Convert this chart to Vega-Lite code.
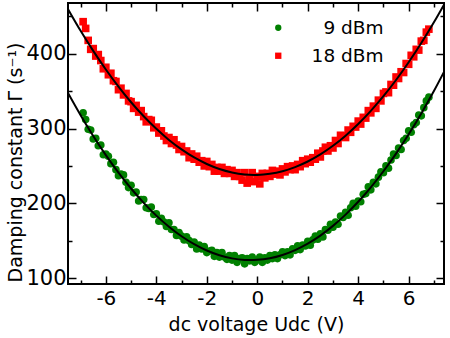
{
  "$schema": "https://vega.github.io/schema/vega-lite/v6.json",
  "width": 376,
  "height": 281,
  "autosize": {"type": "none"},
  "padding": {"left": 68, "top": 3, "right": 6, "bottom": 54},
  "config": {
    "view": {"stroke": "black", "strokeWidth": 2},
    "font": "DejaVu Sans",
    "axis": {"domain": false, "grid": false, "tickColor": "black", "tickWidth": 1.5, "labelColor": "black", "labelFont": "DejaVu Sans", "labelFontSize": 21, "titleFont": "DejaVu Sans", "titleFontSize": 19, "titleFontWeight": "normal", "titleColor": "black"},
    "legend": {"orient": "none", "legendX": 201, "legendY": 15.5, "title": null, "labelFont": "DejaVu Sans", "labelFontSize": 18.5, "labelColor": "black", "labelAlign": "right", "labelOffset": 96, "symbolSize": 40, "rowPadding": 9, "padding": 0, "symbolStrokeWidth": 0}
  },
  "datasets": {
    "pts": [
      {"U":-6.9,"9 dBm":321,"18 dBm":443},{"U":-6.8,"9 dBm":312,"18 dBm":434},{"U":-6.7,"9 dBm":299,"18 dBm":418},{"U":-6.6,"9 dBm":298,"18 dBm":406},{"U":-6.5,"9 dBm":286,"18 dBm":407},{"U":-6.4,"9 dBm":287,"18 dBm":397},{"U":-6.3,"9 dBm":277,"18 dBm":399},{"U":-6.2,"9 dBm":278,"18 dBm":391},{"U":-6.1,"9 dBm":265,"18 dBm":380},{"U":-6.0,"9 dBm":266,"18 dBm":382},
      {"U":-5.9,"9 dBm":263,"18 dBm":372},{"U":-5.8,"9 dBm":253,"18 dBm":374},{"U":-5.7,"9 dBm":255,"18 dBm":364},{"U":-5.6,"9 dBm":245,"18 dBm":363},{"U":-5.5,"9 dBm":237,"18 dBm":352},{"U":-5.4,"9 dBm":239,"18 dBm":354},{"U":-5.3,"9 dBm":238,"18 dBm":345},{"U":-5.2,"9 dBm":228,"18 dBm":347},{"U":-5.1,"9 dBm":221,"18 dBm":337},{"U":-5.0,"9 dBm":224,"18 dBm":336},
      {"U":-4.9,"9 dBm":214,"18 dBm":327},{"U":-4.8,"9 dBm":215,"18 dBm":331},{"U":-4.7,"9 dBm":203,"18 dBm":322},{"U":-4.6,"9 dBm":205,"18 dBm":324},{"U":-4.5,"9 dBm":205,"18 dBm":316},{"U":-4.4,"9 dBm":194,"18 dBm":309},{"U":-4.3,"9 dBm":193,"18 dBm":312},{"U":-4.2,"9 dBm":195,"18 dBm":311},{"U":-4.1,"9 dBm":185,"18 dBm":301},{"U":-4.0,"9 dBm":186,"18 dBm":302},
      {"U":-3.9,"9 dBm":176,"18 dBm":294},{"U":-3.8,"9 dBm":180,"18 dBm":297},{"U":-3.7,"9 dBm":175,"18 dBm":290},{"U":-3.6,"9 dBm":169,"18 dBm":284},{"U":-3.5,"9 dBm":174,"18 dBm":288},{"U":-3.4,"9 dBm":165,"18 dBm":280},{"U":-3.3,"9 dBm":165,"18 dBm":285},{"U":-3.2,"9 dBm":157,"18 dBm":278},{"U":-3.1,"9 dBm":161,"18 dBm":272},{"U":-3.0,"9 dBm":156,"18 dBm":276},
      {"U":-2.9,"9 dBm":151,"18 dBm":269},{"U":-2.8,"9 dBm":155,"18 dBm":270},{"U":-2.7,"9 dBm":150,"18 dBm":261},{"U":-2.6,"9 dBm":145,"18 dBm":266},{"U":-2.5,"9 dBm":148,"18 dBm":259},{"U":-2.4,"9 dBm":139,"18 dBm":263},{"U":-2.3,"9 dBm":144,"18 dBm":255},{"U":-2.2,"9 dBm":139,"18 dBm":257},{"U":-2.1,"9 dBm":142,"18 dBm":250},{"U":-2.0,"9 dBm":134,"18 dBm":256},
      {"U":-1.9,"9 dBm":136,"18 dBm":249},{"U":-1.8,"9 dBm":137,"18 dBm":252},{"U":-1.7,"9 dBm":129,"18 dBm":243},{"U":-1.6,"9 dBm":134,"18 dBm":248},{"U":-1.5,"9 dBm":128,"18 dBm":243},{"U":-1.4,"9 dBm":134,"18 dBm":248},{"U":-1.3,"9 dBm":128,"18 dBm":240},{"U":-1.2,"9 dBm":125,"18 dBm":245},{"U":-1.1,"9 dBm":130,"18 dBm":240},{"U":-1.0,"9 dBm":124,"18 dBm":244},
      {"U":-0.9,"9 dBm":130,"18 dBm":236},{"U":-0.8,"9 dBm":121,"18 dBm":241},{"U":-0.7,"9 dBm":126,"18 dBm":236},{"U":-0.6,"9 dBm":127,"18 dBm":231},{"U":-0.5,"9 dBm":119,"18 dBm":241},{"U":-0.4,"9 dBm":126,"18 dBm":227},{"U":-0.3,"9 dBm":123,"18 dBm":234},{"U":-0.2,"9 dBm":128,"18 dBm":241},{"U":-0.1,"9 dBm":121,"18 dBm":229},{"U":0.0,"9 dBm":124,"18 dBm":236},
      {"U":0.1,"9 dBm":128,"18 dBm":226},{"U":0.2,"9 dBm":121,"18 dBm":240},{"U":0.3,"9 dBm":127,"18 dBm":234},{"U":0.4,"9 dBm":124,"18 dBm":240},{"U":0.5,"9 dBm":130,"18 dBm":236},{"U":0.6,"9 dBm":126,"18 dBm":244},{"U":0.7,"9 dBm":131,"18 dBm":239},{"U":0.8,"9 dBm":126,"18 dBm":243},{"U":0.9,"9 dBm":131,"18 dBm":238},{"U":1.0,"9 dBm":135,"18 dBm":246},
      {"U":1.1,"9 dBm":130,"18 dBm":242},{"U":1.2,"9 dBm":135,"18 dBm":249},{"U":1.3,"9 dBm":131,"18 dBm":245},{"U":1.4,"9 dBm":139,"18 dBm":250},{"U":1.5,"9 dBm":137,"18 dBm":245},{"U":1.6,"9 dBm":143,"18 dBm":252},{"U":1.7,"9 dBm":138,"18 dBm":249},{"U":1.8,"9 dBm":144,"18 dBm":257},{"U":1.9,"9 dBm":143,"18 dBm":253},{"U":2.0,"9 dBm":149,"18 dBm":259},
      {"U":2.1,"9 dBm":144,"18 dBm":255},{"U":2.2,"9 dBm":151,"18 dBm":261},{"U":2.3,"9 dBm":156,"18 dBm":259},{"U":2.4,"9 dBm":152,"18 dBm":267},{"U":2.5,"9 dBm":159,"18 dBm":262},{"U":2.6,"9 dBm":155,"18 dBm":270},{"U":2.7,"9 dBm":165,"18 dBm":275},{"U":2.8,"9 dBm":164,"18 dBm":270},{"U":2.9,"9 dBm":172,"18 dBm":277},{"U":3.0,"9 dBm":168,"18 dBm":274},
      {"U":3.1,"9 dBm":175,"18 dBm":284},{"U":3.2,"9 dBm":172,"18 dBm":280},{"U":3.3,"9 dBm":183,"18 dBm":291},{"U":3.4,"9 dBm":181,"18 dBm":290},{"U":3.5,"9 dBm":188,"18 dBm":288},{"U":3.6,"9 dBm":184,"18 dBm":298},{"U":3.7,"9 dBm":194,"18 dBm":295},{"U":3.8,"9 dBm":200,"18 dBm":303},{"U":3.9,"9 dBm":196,"18 dBm":302},{"U":4.0,"9 dBm":203,"18 dBm":310},
      {"U":4.1,"9 dBm":202,"18 dBm":306},{"U":4.2,"9 dBm":212,"18 dBm":315},{"U":4.3,"9 dBm":213,"18 dBm":314},{"U":4.4,"9 dBm":222,"18 dBm":324},{"U":4.5,"9 dBm":218,"18 dBm":321},{"U":4.6,"9 dBm":228,"18 dBm":330},{"U":4.7,"9 dBm":226,"18 dBm":327},{"U":4.8,"9 dBm":235,"18 dBm":338},{"U":4.9,"9 dBm":242,"18 dBm":337},{"U":5.0,"9 dBm":241,"18 dBm":347},
      {"U":5.1,"9 dBm":250,"18 dBm":349},{"U":5.2,"9 dBm":247,"18 dBm":348},{"U":5.3,"9 dBm":258,"18 dBm":359},{"U":5.4,"9 dBm":266,"18 dBm":358},{"U":5.5,"9 dBm":264,"18 dBm":369},{"U":5.6,"9 dBm":274,"18 dBm":367},{"U":5.7,"9 dBm":272,"18 dBm":376},{"U":5.8,"9 dBm":284,"18 dBm":375},{"U":5.9,"9 dBm":287,"18 dBm":387},{"U":6.0,"9 dBm":297,"18 dBm":386},
      {"U":6.1,"9 dBm":295,"18 dBm":398},{"U":6.2,"9 dBm":305,"18 dBm":396},{"U":6.3,"9 dBm":308,"18 dBm":406},{"U":6.4,"9 dBm":318,"18 dBm":405},{"U":6.5,"9 dBm":317,"18 dBm":417},{"U":6.6,"9 dBm":328,"18 dBm":418},{"U":6.7,"9 dBm":337,"18 dBm":429},{"U":6.8,"9 dBm":342,"18 dBm":433}
    ],
    "fit": [
      {"U":-7.5,"9 dBm":347.7,"18 dBm":459.8},{"U":-7.0,"9 dBm":317.9,"18 dBm":430.8},{"U":-6.5,"9 dBm":290.1,"18 dBm":403.9},{"U":-6.0,"9 dBm":264.5,"18 dBm":379.0},{"U":-5.5,"9 dBm":241.1,"18 dBm":356.1},{"U":-5.0,"9 dBm":219.8,"18 dBm":335.2},{"U":-4.5,"9 dBm":200.6,"18 dBm":316.4},{"U":-4.0,"9 dBm":183.5,"18 dBm":299.6},{"U":-3.5,"9 dBm":168.7,"18 dBm":284.8},{"U":-3.0,"9 dBm":155.9,"18 dBm":272.1},{"U":-2.5,"9 dBm":145.3,"18 dBm":261.3},{"U":-2.0,"9 dBm":136.8,"18 dBm":252.6},{"U":-1.5,"9 dBm":130.5,"18 dBm":245.9},{"U":-1.0,"9 dBm":126.3,"18 dBm":241.3},{"U":-0.5,"9 dBm":124.2,"18 dBm":238.6},{"U":0.0,"9 dBm":124.3,"18 dBm":238.0},
      {"U":0.5,"9 dBm":126.5,"18 dBm":239.5},{"U":1.0,"9 dBm":130.9,"18 dBm":242.9},{"U":1.5,"9 dBm":137.4,"18 dBm":248.4},{"U":2.0,"9 dBm":146.1,"18 dBm":255.9},{"U":2.5,"9 dBm":156.8,"18 dBm":265.4},{"U":3.0,"9 dBm":169.8,"18 dBm":276.9},{"U":3.5,"9 dBm":184.8,"18 dBm":290.5},{"U":4.0,"9 dBm":202.0,"18 dBm":306.1},{"U":4.5,"9 dBm":221.4,"18 dBm":323.7},{"U":5.0,"9 dBm":242.9,"18 dBm":343.3},{"U":5.5,"9 dBm":266.5,"18 dBm":365.0},{"U":6.0,"9 dBm":292.3,"18 dBm":388.7},{"U":6.5,"9 dBm":320.2,"18 dBm":414.4},{"U":7.0,"9 dBm":350.2,"18 dBm":442.2},{"U":7.4,"9 dBm":375.8,"18 dBm":465.8}
    ]
  },
  "layer": [
    {
      "data": {"name": "pts"},
      "transform": [{"fold": ["9 dBm", "18 dBm"], "as": ["series", "G"]}],
      "mark": {"type": "point", "filled": true, "size": 58, "opacity": 1, "clip": true},
      "encoding": {
        "x": {"field": "U", "type": "quantitative", "scale": {"domain": [-7.5, 7.4], "nice": false, "zero": false},
          "axis": {"orient": "bottom", "values": [-7,-6,-5,-4,-3,-2,-1,0,1,2,3,4,5,6,7], "labelExpr": "datum.value % 2 === 0 ? '' + datum.value : ''", "labelFontSize": 20, "tickSize": {"condition": {"test": "datum.value % 2 === 0", "value": -8}, "value": -4}, "labelPadding": 12, "title": "dc voltage Udc (V)", "titleY": 46, "titleBaseline": "alphabetic"}},
        "y": {"field": "G", "type": "quantitative", "scale": {"domain": [92, 468], "nice": false, "zero": false},
          "axis": {"orient": "left", "values": [100,150,200,250,300,350,400,450], "labelExpr": "datum.value % 100 === 0 ? '' + datum.value : ''", "tickSize": {"condition": {"test": "datum.value % 100 === 0", "value": -8}, "value": -4}, "labelPadding": 10, "title": "Damping constant Γ (s⁻¹)", "titleX": -46.5, "titleY": 159, "titleBaseline": "alphabetic"}},
        "color": {"field": "series", "type": "nominal", "scale": {"domain": ["9 dBm", "18 dBm"], "range": ["#008000", "#ff0000"]}},
        "shape": {"field": "series", "type": "nominal", "scale": {"domain": ["9 dBm", "18 dBm"], "range": ["circle", "square"]}}
      }
    },
    {
      "data": {"name": "fit"},
      "transform": [{"fold": ["9 dBm", "18 dBm"], "as": ["series", "G"]}],
      "mark": {"type": "line", "color": "black", "strokeWidth": 2, "interpolate": "natural", "clip": true},
      "encoding": {
        "x": {"field": "U", "type": "quantitative",
          "axis": {"orient": "top", "values": [-7,-6,-5,-4,-3,-2,-1,0,1,2,3,4,5,6,7], "labels": false, "title": null, "tickSize": {"condition": {"test": "datum.value % 2 === 0", "value": -8}, "value": -4}}},
        "y": {"field": "G", "type": "quantitative",
          "axis": {"orient": "right", "values": [100,150,200,250,300,350,400,450], "labels": false, "title": null, "tickSize": {"condition": {"test": "datum.value % 100 === 0", "value": -8}, "value": -4}}},
        "detail": {"field": "series", "type": "nominal"}
      }
    }
  ],
  "resolve": {"axis": {"x": "independent", "y": "independent"}}
}
